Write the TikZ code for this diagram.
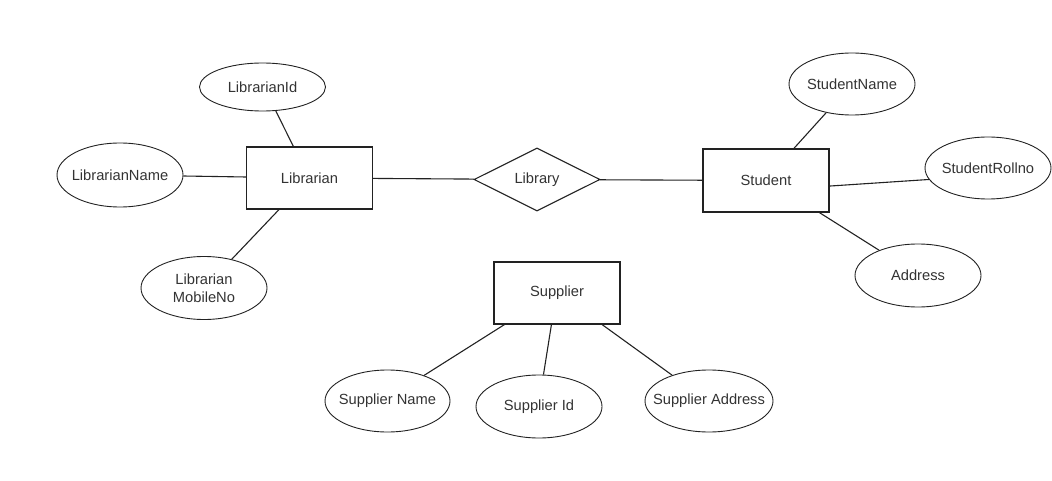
\documentclass[tikz,border=0pt]{standalone}
\usepackage{fontspec}
\setmainfont{Liberation Sans}
\usetikzlibrary{shapes.geometric}
\definecolor{ink}{HTML}{333333}
\definecolor{edge}{HTML}{222222}
\newcommand\diagfont{\fontsize{14.7}{18}\selectfont}
\begin{document}
\begin{tikzpicture}[x=1pt,y=-1pt,
  ent/.style={draw=edge, line width=1.1pt, rectangle, minimum width=126pt, minimum height=62pt, inner sep=0pt, font=\diagfont, text=ink},
  rel/.style={draw=edge, line width=1.1pt, diamond, minimum width=126pt, minimum height=63pt, inner sep=0pt, font=\diagfont, text=ink},
  attr/.style={draw=edge, line width=0.9pt, ellipse, minimum width=126pt, minimum height=62pt, inner sep=0pt},
  lbl/.style={font=\diagfont, text=ink, align=center},
  conn/.style={draw=edge, line width=1.1pt}]
\useasboundingbox (0,0) rectangle (1052,481);
% Librarian side
\node[ent] (lib) at (309.5,178) {Librarian};
\node[attr, minimum height=48pt, label={[lbl]center:LibrarianId}] (lid) at (262.5,87) {};
\node[attr, minimum height=64pt, label={[lbl]center:LibrarianName}] (ln) at (120,175) {};
\node[attr, minimum height=63pt, label={[lbl]center:Librarian\\MobileNo}] (lm) at (204,288) {};
% relationship
\node[rel] (rl) at (537,179.5) {Library};
% Student side
\node[ent, minimum height=63pt] (stu) at (766,180.5) {Student};
\node[attr, label={[lbl]center:StudentName}] (sn) at (852,84) {};
\node[attr, label={[lbl]center:StudentRollno}] (sr) at (988,168) {};
\node[attr, minimum height=63pt, label={[lbl]center:Address}] (sa) at (918,275.5) {};
% Supplier
\node[ent] (sup) at (557,293) {Supplier};
\node[attr, minimum width=125pt, label={[lbl]center:Supplier Name}] (spn) at (387.5,401) {};
\node[attr, minimum height=63pt, label={[lbl]center:Supplier Id}] (spi) at (539,406.5) {};
\node[attr, minimum width=128pt, label={[lbl]center:Supplier Address}] (spa) at (709,401) {};
% connectors
\draw[conn] (lid.-61) -- (lib.117);
\draw[conn] (ln) -- (lib);
\draw[conn] (lm.46) -- (lib.-134);
\draw[conn] (lib) -- (rl);
\draw[conn] (rl) -- (stu);
\draw[conn] (sn.-132) -- (stu.49);
\draw[conn] (stu.-5) -- (sr.-169);
\draw[conn] (stu.-31) -- (sa.147.5);
\draw[conn] (sup.-149) -- (spn.35);
\draw[conn] (sup.-100) -- (spi.82);
\draw[conn] (sup.-35) -- (spa.145);
\end{tikzpicture}
\end{document}
